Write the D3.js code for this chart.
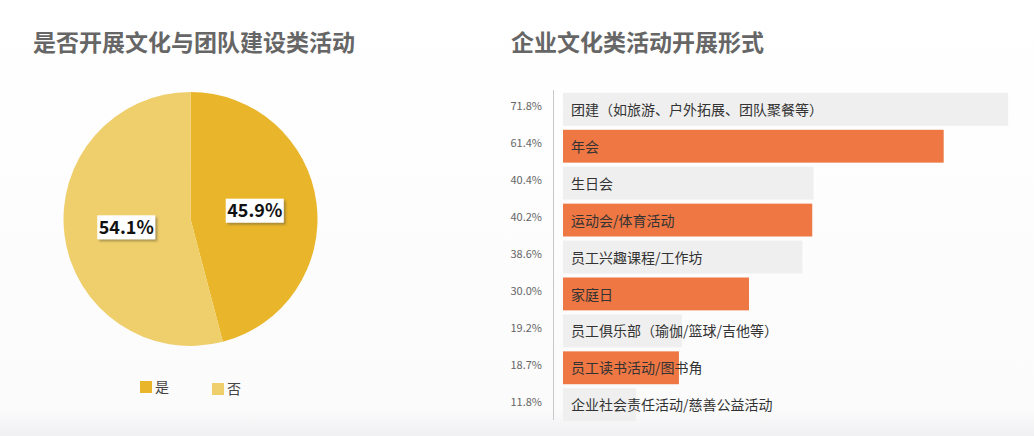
<!DOCTYPE html>
<html>
<head>
<meta charset="utf-8">
<script src="https://cdn.jsdelivr.net/npm/d3@7"></script>
<style>
  body { margin: 0; background: #fff; }
  svg { display: block; font-family: "Noto Sans CJK SC", "Noto Sans", sans-serif; }
</style>
</head>
<body>
<div id="chart"></div>
<script>
// pie data
const pieLabels = ["是", "否"];
const pieValues = [45.9, 54.1];
const pieColors = ["#E9B52A", "#EFCF6C"];

// bar data
const barCategories = [
  "团建（如旅游、户外拓展、团队聚餐等）",
  "年会",
  "生日会",
  "运动会/体育活动",
  "员工兴趣课程/工作坊",
  "家庭日",
  "员工俱乐部（瑜伽/篮球/吉他等）",
  "员工读书活动/图书角",
  "企业社会责任活动/慈善公益活动"
];
const barValues = [71.8, 61.4, 40.4, 40.2, 38.6, 30.0, 19.2, 18.7, 11.8];
const barColors = ["#EFEFEF", "#EE7743"];

const W = 1034, H = 436;

const svg = d3.select("#chart")
    .append("svg")
    .attr("width", W)
    .attr("height", H);

const defs = svg.append("defs");

// faint backdrop
const bg = defs.append("linearGradient")
    .attr("id", "bg")
    .attr("x1", 0).attr("y1", 0).attr("x2", 0).attr("y2", 1);
bg.append("stop").attr("offset", "0%").attr("stop-color", "#ffffff");
bg.append("stop").attr("offset", "94%").attr("stop-color", "#fbfbfc");
bg.append("stop").attr("offset", "100%").attr("stop-color", "#f0f0f2");
svg.append("rect").attr("width", W).attr("height", H).attr("fill", "url(#bg)");

// shadow for pie labels
const shadow = defs.append("filter").attr("id", "shadow")
    .attr("x", "-20%").attr("y", "-20%").attr("width", "150%").attr("height", "160%");
shadow.append("feDropShadow")
    .attr("dx", 2).attr("dy", 2).attr("stdDeviation", 1)
    .attr("flood-color", "#7a6a3a").attr("flood-opacity", 0.6);

// titles
svg.append("text")
    .attr("x", 33).attr("y", 51)
    .style("font-size", "23px")
    .style("font-weight", "bold")
    .attr("fill", "#666")
    .text("是否开展文化与团队建设类活动");

svg.append("text")
    .attr("x", 511).attr("y", 51)
    .style("font-size", "23px")
    .style("font-weight", "bold")
    .attr("fill", "#666")
    .text("企业文化类活动开展形式");

// ---- Pie ----
const cx = 190.5, cy = 219, r = 127;
const pieG = svg.append("g").attr("transform", `translate(${cx},${cy})`);

const pie = d3.pie().sort(null).value(d => d);
const arcs = pie(pieValues);
const arc = d3.arc().innerRadius(0).outerRadius(r);

pieG.selectAll("path")
    .data(arcs)
    .enter()
    .append("path")
    .attr("d", arc)
    .attr("fill", (d, i) => pieColors[i]);

// labels
const labelArc = d3.arc().innerRadius(r * 0.51).outerRadius(r * 0.51);
const lbl = pieG.selectAll(".plbl")
    .data(arcs)
    .enter()
    .append("g")
    .attr("class", "plbl")
    .attr("transform", d => {
        const c = labelArc.centroid(d);
        return `translate(${c[0]},${c[1]})`;
    });

lbl.append("rect")
    .attr("x", -29).attr("y", -12)
    .attr("width", 58).attr("height", 24)
    .attr("fill", "#fff")
    .attr("filter", "url(#shadow)");

lbl.append("text")
    .attr("text-anchor", "middle")
    .attr("dy", "0.36em")
    .style("font-size", "18px")
    .style("font-weight", "bold")
    .attr("fill", "#111")
    .text((d, i) => d3.format(".1f")(pieValues[i]) + "%");

// legend
const legend = svg.selectAll(".legend")
    .data(pieLabels)
    .enter()
    .append("g")
    .attr("class", "legend")
    .attr("transform", (d, i) => `translate(${140 + i * 72},${381 + i * 2})`);

legend.append("rect")
    .attr("width", 12).attr("height", 12)
    .attr("fill", (d, i) => pieColors[i]);

legend.append("text")
    .attr("x", 15).attr("y", 11)
    .style("font-size", "14px")
    .attr("fill", "#444")
    .text(d => d);

// ---- Bars ----
const bx0 = 563;
const xScale = d3.scaleLinear()
    .domain([0, 100])
    .range([bx0, bx0 + 620]);

const yScale = d3.scaleBand()
    .domain(barCategories)
    .range([91, 423])
    .paddingInner(0.11)
    .paddingOuter(0.05);

// axis line
svg.append("line")
    .attr("x1", 553.5).attr("x2", 553.5)
    .attr("y1", 90).attr("y2", 420)
    .attr("stroke", "#c8c8c8")
    .attr("stroke-width", 1);

svg.selectAll(".bar")
    .data(barCategories)
    .enter()
    .append("rect")
    .attr("class", "bar")
    .attr("x", xScale(0))
    .attr("y", d => yScale(d))
    .attr("width", (d, i) => xScale(barValues[i]) - xScale(0))
    .attr("height", yScale.bandwidth())
    .attr("fill", (d, i) => barColors[i % 2]);

svg.selectAll(".bar-label")
    .data(barCategories)
    .enter()
    .append("text")
    .attr("class", "bar-label")
    .attr("x", xScale(0) + 8)
    .attr("y", d => yScale(d) + yScale.bandwidth() / 2)
    .attr("dy", "0.4em")
    .style("font-size", "14px")
    .attr("fill", "#333")
    .text(d => d);

svg.selectAll(".val-label")
    .data(barCategories)
    .enter()
    .append("text")
    .attr("class", "val-label")
    .attr("x", 542)
    .attr("y", d => yScale(d) + yScale.bandwidth() / 2 - 3)
    .attr("dy", "0.35em")
    .attr("text-anchor", "end")
    .style("font-size", "11px")
    .attr("fill", "#666")
    .text((d, i) => d3.format(".1f")(barValues[i]) + "%");
</script>
</body>
</html>
